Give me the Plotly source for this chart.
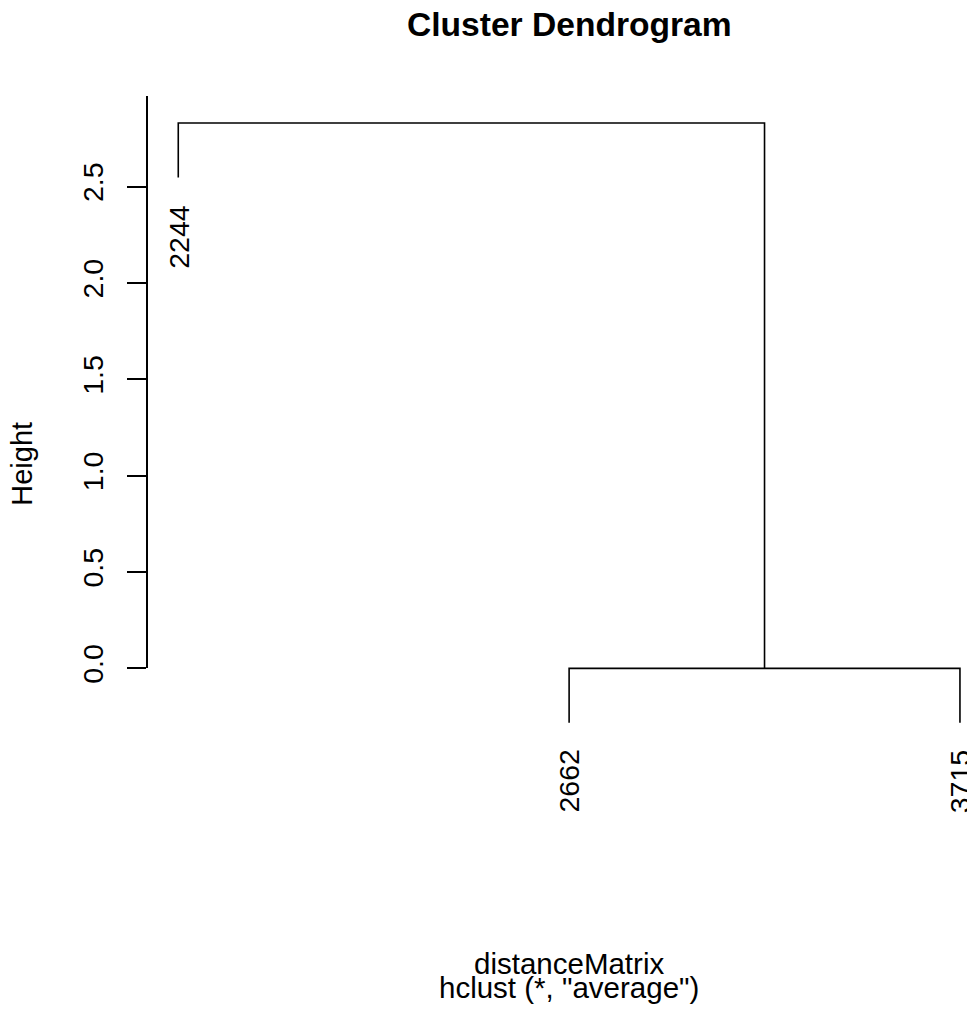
import plotly.graph_objects as go

# ---- data ----
leaf_labels = ["2244", "2662", "3715"]          # in dendrogram order
# merges: negative = leaf index (1-based), positive = merge index
merge_left = [-2, -1]
merge_right = [-3, 1]
merge_height = [0.0, 2.83]
y_ticks = [0.0, 0.5, 1.0, 1.5, 2.0, 2.5]
tick_text = ["0.0", "0.5", "1.0", "1.5", "2.0", "2.5"]
title_text = "Cluster Dendrogram"
xlab_text = "distanceMatrix"
sub_text = 'hclust (*, "average")'
ylab_text = "Height"

W, H = 967, 1011
FONT = "Liberation Sans, Arial, Helvetica, sans-serif"
FS = 28.5
hang = 0.1 * (max(merge_height) - min(merge_height))

leaf_order = [1, 2, 3]  # 2244, 2662, 3715
leaf_x = {leaf: i + 1 for i, leaf in enumerate(leaf_order)}

xs, ys = [], []
node_x = {}
leaf_bottom = {}
for k, (a, b, h) in enumerate(zip(merge_left, merge_right, merge_height), start=1):
    ends = []
    for child in (a, b):
        if child < 0:
            cx = leaf_x[-child]
            cy = h - hang
            leaf_bottom[-child] = cy
        else:
            cx = node_x[child]
            cy = merge_height[child - 1]
        ends.append((cx, cy))
    (x1, y1), (x2, y2) = ends
    xs += [x1, x1, x2, x2, None]
    ys += [y1, h, h, y2, None]
    node_x[k] = (x1 + x2) / 2

fig = go.Figure()
fig.add_trace(go.Scatter(x=xs, y=ys, mode="lines",
                         line=dict(color="black", width=1.6),
                         hoverinfo="skip", showlegend=False))
# invisible trace for the tick axis
fig.add_trace(go.Scatter(x=[1], y=[0], yaxis="y2", mode="markers",
                         marker=dict(opacity=0), hoverinfo="skip", showlegend=False))

ML, MR, MT = 147.4, 0, 96
y_lo, y_hi = -0.32, 2.97
px_per_unit = 192.6
plot_h = (y_hi - y_lo) * px_per_unit
MB = H - MT - plot_h
plot_w = W - ML - MR

def paper_x(px):
    return (px - ML) / plot_w

def paper_y(py):
    return (MT + plot_h - py) / plot_h

fig.update_layout(
    width=W, height=H,
    margin=dict(l=ML, r=MR, t=MT, b=MB, pad=0),
    paper_bgcolor="white", plot_bgcolor="rgba(0,0,0,0)",
    font=dict(family=FONT, size=FS, color="black"),
    xaxis=dict(range=[0.92, 0.92 + plot_w / 390.65], visible=False, fixedrange=True),
    yaxis=dict(range=[y_lo, y_hi], visible=False, fixedrange=True),
    yaxis2=dict(range=[0, y_hi], domain=[(0 - y_lo) / (y_hi - y_lo), 1],
                anchor="free", position=0,
                showline=True, linecolor="black", linewidth=1.6,
                ticks="outside", ticklen=19, tickwidth=1.6, tickcolor="black",
                tickvals=y_ticks, ticktext=tick_text, tickangle=-90,
                tickfont=dict(family=FONT, size=FS, color="black"),
                ticklabelstandoff=13,
                showgrid=False, zeroline=False, fixedrange=True),
    showlegend=False,
)

ann = []
for leaf in leaf_order:
    ann.append(dict(x=leaf_x[leaf], y=leaf_bottom[leaf], xref="x", yref="y",
                    text=leaf_labels[leaf - 1], textangle=-90, showarrow=False,
                    xanchor="center", yanchor="top", yshift=-25,
                    font=dict(family=FONT, size=FS, color="black")))
ann.append(dict(x=2, y=paper_y(25), xref="x", yref="paper", text="<b>" + title_text + "</b>",
                showarrow=False, xanchor="center", yanchor="middle",
                font=dict(family=FONT, size=33.6, color="black")))
ann.append(dict(x=2, y=paper_y(963), xref="x", yref="paper", text=xlab_text,
                showarrow=False, xanchor="center", yanchor="middle",
                font=dict(family=FONT, size=29.5, color="black")))
ann.append(dict(x=2, y=paper_y(987), xref="x", yref="paper", text=sub_text,
                showarrow=False, xanchor="center", yanchor="middle",
                font=dict(family=FONT, size=29.5, color="black")))
ann.append(dict(x=paper_x(23), y=paper_y(464), xref="paper", yref="paper", text=ylab_text,
                textangle=-90, showarrow=False, xanchor="center", yanchor="middle",
                font=dict(family=FONT, size=29, color="black")))
fig.update_layout(annotations=ann)

fig.write_html("out.html", config={"displayModeBar": False},
               post_script="document.body.style.margin='0px';document.body.style.overflow='hidden';")
